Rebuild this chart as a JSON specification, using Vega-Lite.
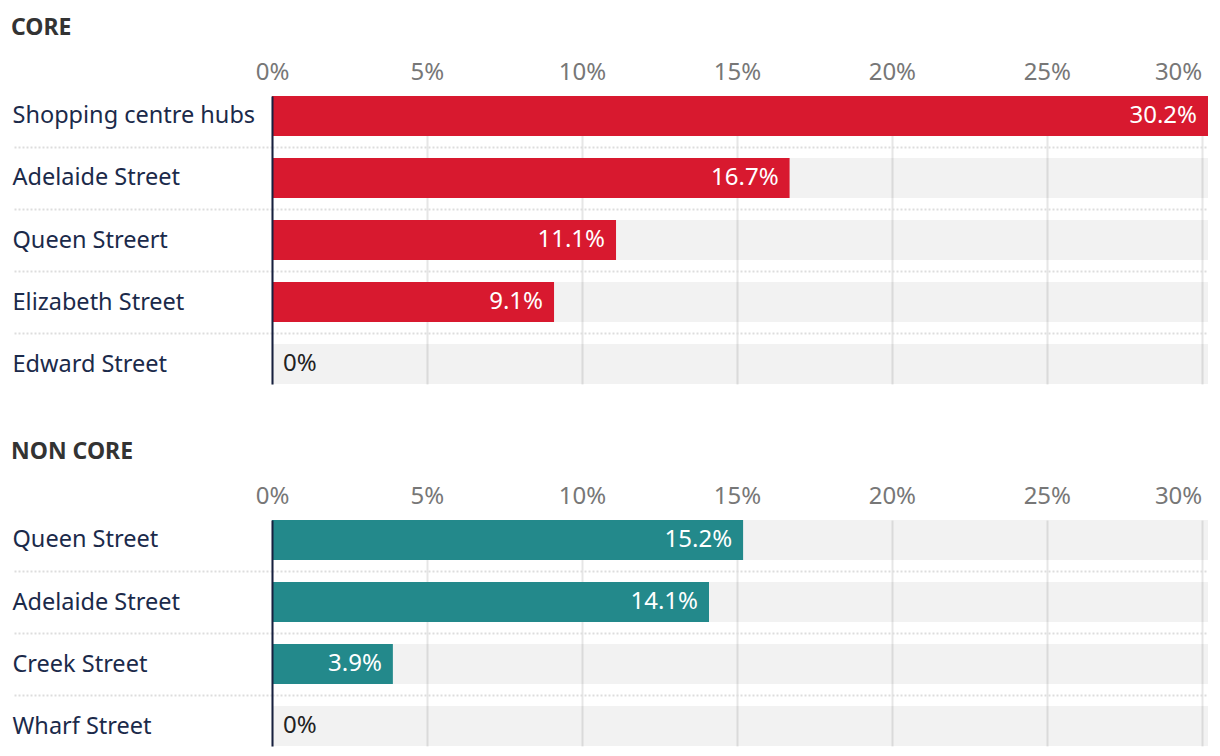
{
  "$schema": "https://vega.github.io/schema/vega-lite/v6.json",
  "padding": {"left": 11, "top": 17, "right": 0, "bottom": 0},
  "background": "white",
  "config": {
    "view": {"stroke": null},
    "font": "Noto Sans",
    "title": {"font": "Noto Sans", "fontSize": 23, "fontWeight": "bold", "color": "#333333", "anchor": "start", "frame": "bounds", "offset": 20}
  },
  "datasets": {
    "core": [
      {"place": "Shopping centre hubs", "v": 0.302},
      {"place": "Adelaide Street", "v": 0.167},
      {"place": "Queen Streert", "v": 0.111},
      {"place": "Elizabeth Street", "v": 0.091},
      {"place": "Edward Street", "v": 0}
    ],
    "noncore": [
      {"place": "Queen Street", "v": 0.152},
      {"place": "Adelaide Street", "v": 0.141},
      {"place": "Creek Street", "v": 0.039},
      {"place": "Wharf Street", "v": 0}
    ]
  },
  "spacing": 46,
  "vconcat": [
    {
      "title": "CORE",
      "width": 936,
      "height": 288,
      "data": {"name": "core"},
      "encoding": {
        "y": {
          "field": "place", "type": "nominal", "sort": null,
          "scale": {"paddingInner": 0.35484, "paddingOuter": 0},
          "axis": {
            "title": null, "orient": "left", "zindex": 1,
            "domain": true, "domainColor": "#17203f", "domainWidth": 2,
            "ticks": true, "tickSize": 260, "tickColor": "#dddddd", "tickDash": [2, 2], "tickWidth": 2,
            "bandPosition": 1, "tickOffset": 11, "labelOffset": -11, "tickExtra": false,
            "tickOpacity": {"condition": {"test": "datum.value === 'Edward Street'", "value": 0}, "value": 1},
            "grid": true, "gridColor": "#dddddd", "gridDash": [2, 2], "gridWidth": 2,
            "gridOpacity": {"condition": {"test": "datum.value === 'Edward Street'", "value": 0}, "value": 1},
            "labelAlign": "left", "labelPadding": 0, "labelLimit": 400, "labelBaseline": "middle",
            "labelFont": "Noto Sans", "labelFontSize": 23.5, "labelColor": "#1b2a4a"
          }
        }
      },
      "layer": [
        {
          "mark": {"type": "bar", "color": "#000000", "opacity": 0.05},
          "encoding": {
            "x": {"datum": 0, "type": "quantitative",
              "scale": {"domain": [0, 0.302], "nice": false},
              "axis": {
                "orient": "top", "title": null, "format": ".0%",
                "values": [0, 0.05, 0.1, 0.15, 0.2, 0.25, 0.3],
                "domain": false, "ticks": false, "labelFlush": false,
                "labelAlign": {"condition": {"test": "datum.value >= 0.3", "value": "right"}, "value": "center"},
                "grid": true, "gridColor": "#e6e6e6", "gridWidth": 2,
                "labelFont": "Noto Sans", "labelFontSize": 24, "labelColor": "#777777", "labelPadding": 12
              }},
            "x2": {"datum": 0.302}
          }
        },
        {
          "mark": {"type": "bar", "color": "#d8192f"},
          "encoding": {"x": {"field": "v", "type": "quantitative"}}
        },
        {
          "transform": [{"filter": "datum.v > 0"}],
          "mark": {"type": "text", "align": "right", "baseline": "middle", "dx": -11, "fontSize": 24, "color": "#ffffff", "font": "Noto Sans"},
          "encoding": {
            "x": {"field": "v", "type": "quantitative"},
            "text": {"field": "v", "type": "quantitative", "format": ".1%"}
          }
        },
        {
          "transform": [{"filter": "datum.v === 0"}],
          "mark": {"type": "text", "align": "left", "baseline": "middle", "dx": 11, "fontSize": 24, "color": "#222222", "font": "Noto Sans"},
          "encoding": {
            "x": {"field": "v", "type": "quantitative"},
            "text": {"field": "v", "type": "quantitative", "format": ".0%"}
          }
        }
      ]
    },
    {
      "title": "NON CORE",
      "width": 936,
      "height": 226,
      "data": {"name": "noncore"},
      "encoding": {
        "y": {
          "field": "place", "type": "nominal", "sort": null,
          "scale": {"paddingInner": 0.35484, "paddingOuter": 0},
          "axis": {
            "title": null, "orient": "left", "zindex": 1,
            "domain": true, "domainColor": "#17203f", "domainWidth": 2,
            "ticks": true, "tickSize": 260, "tickColor": "#dddddd", "tickDash": [2, 2], "tickWidth": 2,
            "bandPosition": 1, "tickOffset": 11, "labelOffset": -11, "tickExtra": false,
            "tickOpacity": {"condition": {"test": "datum.value === 'Wharf Street'", "value": 0}, "value": 1},
            "grid": true, "gridColor": "#dddddd", "gridDash": [2, 2], "gridWidth": 2,
            "gridOpacity": {"condition": {"test": "datum.value === 'Wharf Street'", "value": 0}, "value": 1},
            "labelAlign": "left", "labelPadding": 0, "labelLimit": 400, "labelBaseline": "middle",
            "labelFont": "Noto Sans", "labelFontSize": 23.5, "labelColor": "#1b2a4a"
          }
        }
      },
      "layer": [
        {
          "mark": {"type": "bar", "color": "#000000", "opacity": 0.05},
          "encoding": {
            "x": {"datum": 0, "type": "quantitative",
              "scale": {"domain": [0, 0.302], "nice": false},
              "axis": {
                "orient": "top", "title": null, "format": ".0%",
                "values": [0, 0.05, 0.1, 0.15, 0.2, 0.25, 0.3],
                "domain": false, "ticks": false, "labelFlush": false,
                "labelAlign": {"condition": {"test": "datum.value >= 0.3", "value": "right"}, "value": "center"},
                "grid": true, "gridColor": "#e6e6e6", "gridWidth": 2,
                "labelFont": "Noto Sans", "labelFontSize": 24, "labelColor": "#777777", "labelPadding": 12
              }},
            "x2": {"datum": 0.302}
          }
        },
        {
          "mark": {"type": "bar", "color": "#23898b"},
          "encoding": {"x": {"field": "v", "type": "quantitative"}}
        },
        {
          "transform": [{"filter": "datum.v > 0"}],
          "mark": {"type": "text", "align": "right", "baseline": "middle", "dx": -11, "fontSize": 24, "color": "#ffffff", "font": "Noto Sans"},
          "encoding": {
            "x": {"field": "v", "type": "quantitative"},
            "text": {"field": "v", "type": "quantitative", "format": ".1%"}
          }
        },
        {
          "transform": [{"filter": "datum.v === 0"}],
          "mark": {"type": "text", "align": "left", "baseline": "middle", "dx": 11, "fontSize": 24, "color": "#222222", "font": "Noto Sans"},
          "encoding": {
            "x": {"field": "v", "type": "quantitative"},
            "text": {"field": "v", "type": "quantitative", "format": ".0%"}
          }
        }
      ]
    }
  ]
}
